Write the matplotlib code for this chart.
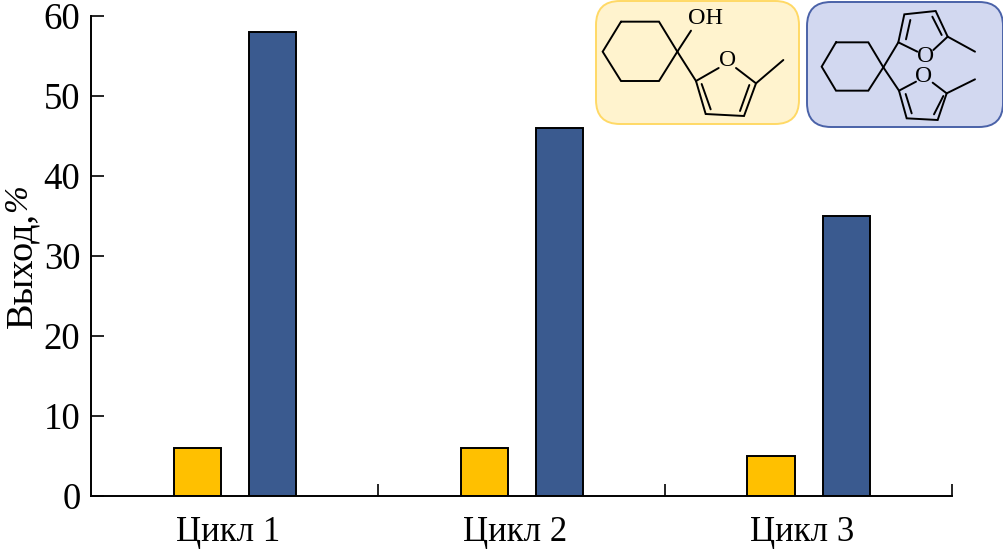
import matplotlib
matplotlib.use("Agg")
import matplotlib.pyplot as plt
from matplotlib.patches import FancyBboxPatch
import numpy as np

cycles = ["Цикл 1", "Цикл 2", "Цикл 3"]
alcohol_yield = [6, 6, 5]
spiro_yield = [58, 46, 35]
y_ticks = [0, 10, 20, 30, 40, 50, 60]

plt.rcParams["font.family"] = ["Liberation Serif", "DejaVu Serif"]

W, H = 1004, 552
fig = plt.figure(figsize=(W / 100, H / 100), dpi=100)
ax = fig.add_axes([91.5 / W, 1 - 495.5 / H, 860.5 / W, 479.5 / H])

x = np.arange(len(cycles)) + 0.5
ax.bar(x - 0.131, alcohol_yield, 0.164, color="#FFC000", edgecolor="black", linewidth=1.4)
ax.bar(x + 0.131, spiro_yield, 0.164, color="#3A5A8F", edgecolor="black", linewidth=1.4)

ax.set_xlim(0, 3)
ax.set_ylim(0, 60)
ax.spines["top"].set_visible(False)
ax.spines["right"].set_visible(False)
ax.spines["left"].set_linewidth(1.4)
ax.spines["bottom"].set_linewidth(1.4)
ax.set_yticks(y_ticks)
ax.tick_params(axis="y", direction="in", length=9, width=1.2, labelsize=26.5, pad=8)
ax.set_xticks([1, 2, 3])
ax.set_xticklabels([])
ax.tick_params(axis="x", direction="in", length=9, width=1.2)
for xc, name in zip(x, cycles):
    ax.annotate(name, (xc, 0), xytext=(-5, -15), xycoords=("data", "axes fraction"),
                textcoords="offset points", ha="center", va="top", fontsize=25)
fig.text(22 / W, 1 - 328 / H, "Выход,", rotation=90, ha="center", va="bottom", fontsize=27.5)
fig.text(18 / W, 1 - 212 / H, "%", rotation=90, ha="center", va="bottom", fontsize=24, style="italic")

# structures on top, in picture pixels
ov = fig.add_axes([0, 0, 1, 1], zorder=5)
ov.set_xlim(0, W)
ov.set_ylim(H, 0)
ov.axis("off")
ov.add_patch(FancyBboxPatch((596 + 24, 1 + 24), 203 - 48, 123 - 48, boxstyle="round,pad=24,rounding_size=24",
                            facecolor="#FFF3CE", edgecolor="#FFD966", linewidth=1.4))
ov.add_patch(FancyBboxPatch((807 + 24, 2 + 24), 196 - 48, 125 - 48, boxstyle="round,pad=24,rounding_size=24",
                            facecolor="#D2D8F0", edgecolor="#4A62A8", linewidth=1.4))


def draw(points, x0):
    xs = [x0 + p[0] / 3 for p in points]
    ys = [p[1] / 3 for p in points]
    ov.plot(xs, ys, color="black", linewidth=1.4, solid_capstyle="round", solid_joinstyle="miter")


draw([(93, 65), (207, 65), (262, 155), (207, 243), (93, 243), (38, 155), (93, 65)], 590)
draw([(262, 155), (303, 92)], 590)
draw([(262, 155), (318, 243), (386, 204)], 590)
draw([(438, 204), (498, 250), (462, 348), (347, 342), (318, 243)], 590)
draw([(498, 250), (580, 180)], 590)
draw([(335, 252), (362, 328)], 590)
draw([(478, 255), (450, 333)], 590)
ov.text(590 + 347 / 3, 57 / 3, "OH", fontsize=17.5, ha="center", va="center")
ov.text(590 + 413 / 3, 181 / 3, "O", fontsize=17, ha="center", va="center")

# second molecule
draw([(108, 127), (205, 127), (250, 202), (205, 272), (108, 272), (65, 200), (108, 127)], 800)
draw([(250, 202), (295, 127), (313, 43), (407, 33), (443, 110), (400, 150)], 800)
draw([(295, 127), (352, 155)], 800)
draw([(443, 110), (525, 155)], 800)
draw([(318, 118), (331, 60)], 800)
draw([(397, 50), (425, 105)], 800)
draw([(250, 202), (297, 272), (320, 355), (413, 360), (440, 280), (398, 248)], 800)
draw([(297, 272), (348, 245)], 800)
draw([(440, 280), (525, 238)], 800)
draw([(317, 282), (335, 340)], 800)
draw([(430, 288), (402, 343)], 800)
ov.text(800 + 376 / 3, 170 / 3, "O", fontsize=17, ha="center", va="center")
ov.text(800 + 372 / 3, 229 / 3, "O", fontsize=17, ha="center", va="center")

fig.savefig("out.png", dpi=100)
